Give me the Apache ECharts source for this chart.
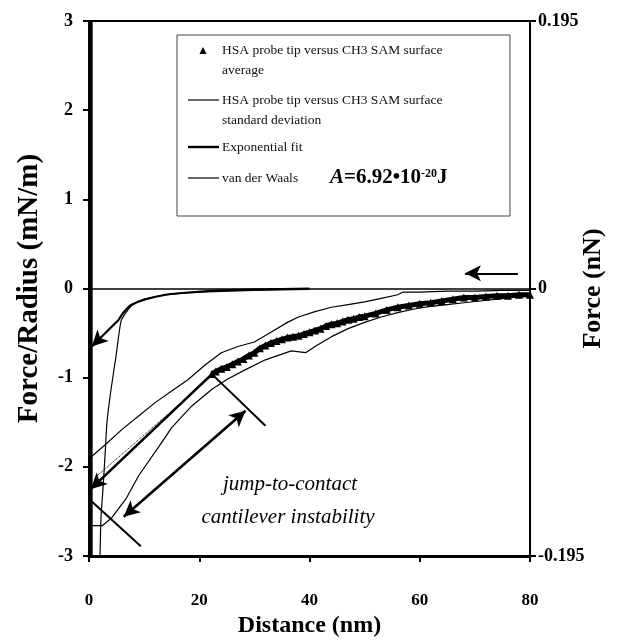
<!DOCTYPE html>
<html>
<head>
<meta charset="utf-8">
<script src="https://cdn.jsdelivr.net/npm/echarts@6/dist/echarts.min.js"></script>
<style>
html,body{margin:0;padding:0;background:#fff;}
#chart{width:620px;height:640px;}
</style>
</head>
<body>
<div id="chart"></div>
<script>
// ---- data ----
const xTicks = [0, 20, 40, 60, 80];
const leftTicks = [-3, -2, -1, 0, 1, 2, 3];
const rightTicks = [-0.195, 0, 0.195];

// average (triangles)
const avgX = [22.3, 23, 24, 25, 26, 27, 28, 29, 30, 31, 32, 33, 34, 35, 36, 37, 38, 39, 40, 41, 42, 43, 44, 45, 46, 47, 48, 49, 50, 52, 54, 56, 58, 60, 62, 64, 66, 68, 70, 72, 74, 76, 78, 80];
const avgY = [-0.96, -0.93, -0.90, -0.88, -0.85, -0.82, -0.79, -0.75, -0.72, -0.67, -0.64, -0.61, -0.59, -0.57, -0.55, -0.54, -0.53, -0.51, -0.49, -0.47, -0.45, -0.42, -0.40, -0.39, -0.37, -0.35, -0.34, -0.32, -0.31, -0.28, -0.24, -0.21, -0.19, -0.17, -0.16, -0.14, -0.12, -0.10, -0.10, -0.09, -0.08, -0.08, -0.07, -0.07];

// standard deviation, upper and lower
const sdUpX = [0, 3, 6, 9, 12, 15, 18, 21, 24, 27, 30, 33, 36, 38, 41, 44, 47, 50, 53, 56, 57, 60, 65, 70, 75, 80];
const sdUpY = [-1.91, -1.75, -1.58, -1.43, -1.28, -1.15, -1.02, -0.86, -0.72, -0.65, -0.60, -0.49, -0.38, -0.32, -0.26, -0.21, -0.18, -0.15, -0.11, -0.07, -0.04, -0.04, -0.03, -0.03, -0.02, -0.02];
const sdLoX = [0, 2.4, 4, 6.7, 9, 12.7, 15, 18.6, 22.3, 25, 28.4, 32, 36.7, 39.3, 41, 44, 47, 50, 53, 56, 59, 62, 65, 68, 71, 74, 77, 80];
const sdLoY = [-2.66, -2.66, -2.58, -2.36, -2.10, -1.77, -1.56, -1.32, -1.13, -1.02, -0.91, -0.80, -0.70, -0.72, -0.65, -0.54, -0.45, -0.38, -0.32, -0.27, -0.23, -0.20, -0.18, -0.16, -0.14, -0.12, -0.10, -0.09];

// exponential fit
const expX = [5.4, 6.0, 7.0, 7.8, 10.3, 13.9, 18, 24, 31, 40];
const expY = [-0.35, -0.29, -0.22, -0.18, -0.12, -0.07, -0.045, -0.02, -0.01, 0];

// van der Waals
const vdwX = [2.0, 2.17, 2.53, 2.9, 3.26, 4.0, 4.9, 5.8, 6.7, 8, 10, 14, 20, 30, 40];
const vdwY = [-3.0, -2.58, -2.25, -1.88, -1.50, -1.13, -0.76, -0.37, -0.27, -0.18, -0.12, -0.07, -0.04, -0.02, -0.01];

// contact region (steep wall at zero distance)
const contactX = [0.3, 0.3];
const contactY = [-3, 3];

// annotation lines [x1, y1, x2, y2]
const expArrow = [5.4, -0.35, 0.5, -0.65];
const jumpArrow = [22.3, -0.96, 0.3, -2.25];
const jumpDotted = [22.3, -0.98, 1.3, -2.11];
const perpTop = [22.3, -0.96, 32, -1.54];
const perpBottom = [0, -2.36, 9.4, -2.89];
const doubleArrow = [28.4, -1.37, 6.3, -2.56];
const directionArrow = [77.8, 0.17, 68.2, 0.17];

const zip = (xs, ys) => xs.map((x, i) => [x, ys[i]]);
const serif = '"Liberation Serif", "DejaVu Serif", serif';

function seg(a, startSym, endSym, width, type) {
  return [
    {coord: [a[0], a[1]], symbol: startSym, symbolSize: [12, 16],
     lineStyle: {color: '#000', width: width, type: type || 'solid'}},
    {coord: [a[2], a[3]], symbol: endSym, symbolSize: [12, 16]}
  ];
}

const chart = echarts.init(document.getElementById('chart'), null, {renderer: 'canvas'});

const option = {
  animation: false,
  backgroundColor: '#fff',
  grid: {left: 89, right: 90, top: 21, bottom: 84, show: true, borderColor: '#000', borderWidth: 2,
         backgroundColor: 'transparent', containLabel: false, outerBoundsMode: 'none'},
  xAxis: {
    type: 'value', min: 0, max: 80, interval: 20,
    name: 'Distance (nm)', nameLocation: 'middle', nameGap: 58, nameMoveOverlap: false,
    nameTextStyle: {fontFamily: serif, fontWeight: 'bold', fontSize: 24, color: '#000'},
    axisLine: {show: true, onZero: false, lineStyle: {color: '#000', width: 3}},
    axisTick: {show: true, length: 6, lineStyle: {color: '#000', width: 2}},
    axisLabel: {margin: 36, fontFamily: serif, fontWeight: 'bold', fontSize: 17, color: '#000'},
    splitLine: {show: false}
  },
  yAxis: [
    {
      type: 'value', min: -3, max: 3, interval: 1, position: 'left',
      name: 'Force/Radius (mN/m)', nameLocation: 'middle', nameGap: 45, nameRotate: 90, nameMoveOverlap: false,
      nameTextStyle: {fontFamily: serif, fontWeight: 'bold', fontSize: 29, color: '#000'},
      axisLine: {show: true, onZero: false, lineStyle: {color: '#000', width: 2}},
      axisTick: {show: true, length: 6, lineStyle: {color: '#000', width: 2}},
      axisLabel: {margin: 16, fontFamily: serif, fontWeight: 'bold', fontSize: 18, color: '#000'},
      splitLine: {show: false}
    },
    {
      type: 'value', min: -0.195, max: 0.195, interval: 0.195, position: 'right',
      name: 'Force (nN)', nameLocation: 'middle', nameGap: 50, nameRotate: 90, nameMoveOverlap: false,
      nameTextStyle: {fontFamily: serif, fontWeight: 'bold', fontSize: 26, color: '#000'},
      axisLine: {show: true, onZero: false, lineStyle: {color: '#000', width: 2}},
      axisTick: {show: true, length: 6, lineStyle: {color: '#000', width: 2}},
      axisLabel: {margin: 8, fontFamily: serif, fontWeight: 'bold', fontSize: 18, color: '#000',
        formatter: v => (v === 0 ? '0' : String(v))},
      splitLine: {show: false}
    }
  ],
  series: [
    {
      name: 'HSA probe tip versus CH3 SAM surface average', type: 'line',
      data: zip(avgX, avgY), symbol: 'triangle', symbolSize: 8, showSymbol: true, showAllSymbol: true,
      itemStyle: {color: '#000'}, lineStyle: {color: '#000', width: 5}, z: 5
    },
    {
      name: 'HSA probe tip versus CH3 SAM surface standard deviation', type: 'line',
      data: zip(sdUpX, sdUpY), symbol: 'none', lineStyle: {color: '#000', width: 1.2}
    },
    {
      name: 'HSA probe tip versus CH3 SAM surface standard deviation', type: 'line',
      data: zip(sdLoX, sdLoY), symbol: 'none', lineStyle: {color: '#000', width: 1.2}
    },
    {
      name: 'Exponential fit', type: 'line', smooth: 0.3,
      data: zip(expX, expY), symbol: 'none', lineStyle: {color: '#000', width: 2.2}
    },
    {
      name: 'van der Waals', type: 'line', smooth: 0.2,
      data: zip(vdwX, vdwY), symbol: 'none', lineStyle: {color: '#000', width: 1.2}
    },
    {
      name: 'contact', type: 'line',
      data: zip(contactX, contactY), symbol: 'none', lineStyle: {color: '#000', width: 4},
      markLine: {
        silent: true, animation: false,
        label: {show: false},
        symbol: ['none', 'none'],
        lineStyle: {color: '#000'},
        data: [
          [{coord: [0, 0], symbol: 'none', lineStyle: {color: '#000', width: 1.5, type: 'solid'}}, {coord: [80, 0], symbol: 'none'}],
          seg(expArrow, 'none', 'arrow', 2.2),
          seg(jumpArrow, 'none', 'arrow', 2.6),
          seg(jumpDotted, 'none', 'none', 1, 'dotted'),
          seg(perpTop, 'none', 'none', 2),
          seg(perpBottom, 'none', 'none', 2),
          seg(doubleArrow, 'arrow', 'arrow', 2.6),
          seg(directionArrow, 'none', 'arrow', 2)
        ]
      }
    }
  ],
  graphic: [
    {type: 'rect', shape: {x: 177, y: 35, width: 333, height: 181}, style: {fill: '#fff', stroke: '#444', lineWidth: 1}, z: 10},
    {type: 'polygon', shape: {points: [[203, 47], [199.5, 54], [206.5, 54]]}, style: {fill: '#000'}, z: 11},
    {type: 'text', x: 222, y: 50, style: {text: 'HSA probe tip versus CH3 SAM surface', font: '13.5px ' + serif, fill: '#111', verticalAlign: 'middle'}, z: 11},
    {type: 'text', x: 222, y: 70, style: {text: 'average', font: '13.5px ' + serif, fill: '#111', verticalAlign: 'middle'}, z: 11},
    {type: 'line', shape: {x1: 188, y1: 100, x2: 219, y2: 100}, style: {stroke: '#000', lineWidth: 1.2}, z: 11},
    {type: 'text', x: 222, y: 100, style: {text: 'HSA probe tip versus CH3 SAM surface', font: '13.5px ' + serif, fill: '#111', verticalAlign: 'middle'}, z: 11},
    {type: 'text', x: 222, y: 120, style: {text: 'standard deviation', font: '13.5px ' + serif, fill: '#111', verticalAlign: 'middle'}, z: 11},
    {type: 'line', shape: {x1: 188, y1: 147, x2: 219, y2: 147}, style: {stroke: '#000', lineWidth: 2.4}, z: 11},
    {type: 'text', x: 222, y: 147, style: {text: 'Exponential fit', font: '13.5px ' + serif, fill: '#111', verticalAlign: 'middle'}, z: 11},
    {type: 'line', shape: {x1: 188, y1: 178, x2: 219, y2: 178}, style: {stroke: '#000', lineWidth: 1.2}, z: 11},
    {type: 'text', x: 222, y: 178, style: {text: 'van der Waals', font: '13.5px ' + serif, fill: '#111', verticalAlign: 'middle'}, z: 11},
    {type: 'text', x: 330, y: 178, z: 11, style: {
      text: '{a|A}{b|=6.92•10}{s|-20}{b|J}', verticalAlign: 'middle',
      rich: {
        a: {font: 'italic bold 21px ' + serif, fill: '#000'},
        b: {font: 'bold 21px ' + serif, fill: '#000'},
        s: {font: 'bold 12px ' + serif, fill: '#000', verticalAlign: 'top', padding: [0, 0, 8, 0]}
      }
    }},
    {type: 'text', x: 290, y: 484, style: {text: 'jump-to-contact', font: 'italic 21px ' + serif, fill: '#000', align: 'center', verticalAlign: 'middle'}, z: 11},
    {type: 'text', x: 288, y: 517, style: {text: 'cantilever instability', font: 'italic 21px ' + serif, fill: '#000', align: 'center', verticalAlign: 'middle'}, z: 11}
  ]
};
chart.setOption(option);
</script>
</body>
</html>
